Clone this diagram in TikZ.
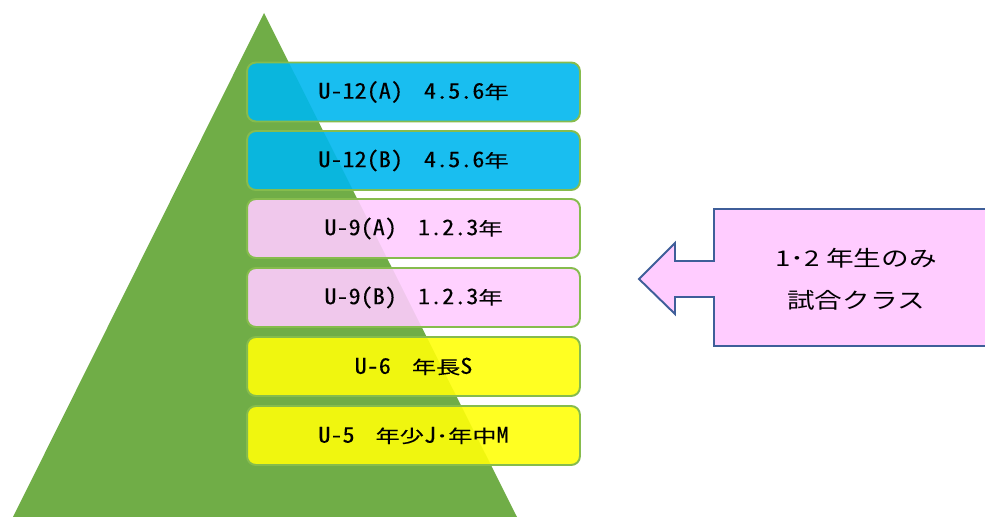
\documentclass[tikz,border=0pt]{standalone}
\usepackage{fontspec}
\setmainfont{Noto Sans CJK JP}
\newfontfamily\classfont[CharacterWidth=Half, FakeStretch=1.35, FakeBold=0.2]{Noto Sans CJK JP}
\newfontfamily\notefont[FakeStretch=1.28]{Noto Sans CJK JP}
\usetikzlibrary{calc}

\definecolor{pyramidgreen}{RGB}{112,173,71}
\definecolor{boxedge}{RGB}{134,188,77}
\definecolor{classblue}{RGB}{0,183,238}
\definecolor{classpink}{RGB}{255,204,255}
\definecolor{classyellow}{RGB}{255,255,10}
\definecolor{calloutedge}{RGB}{63,94,153}

\newcommand{\gap}{\hspace{0.42cm}}
\newcommand{\tall}[1]{\scalebox{1}[1.2]{#1}}

\begin{document}
\begin{tikzpicture}[x=0.02cm, y=-0.02cm,
  classbox/.style={draw=boxedge, line width=1.1pt, rounded corners=5pt,
    fill opacity=0.9, text opacity=1, inner sep=0pt,
    minimum width=6.66cm, minimum height=1.18cm,
    font=\classfont\fontsize{10.2pt}{12pt}\selectfont}]
  \useasboundingbox (0,0) rectangle (985,517);
  \clip (0,0) rectangle (985,517);

  % Pyramid in the back
  \fill[pyramidgreen] (264,13) -- (517,517) -- (13,517) -- cycle;

  \def\drawClass#1#2#3#4{
    \node[classbox, fill=#3] (#1) at (413.5,#2) {#4};
  }

  % Classes, top to bottom
  \drawClass{uA}{92}{classblue}{\tall{U-12(A)}\gap\tall{4.5.6}年}
  \drawClass{uB}{160.5}{classblue}{\tall{U-12(B)}\gap\tall{4.5.6}年}
  \drawClass{nA}{228.5}{classpink}{\tall{U-9(A)}\gap\tall{1.2.3}年}
  \drawClass{nB}{297.5}{classpink}{\tall{U-9(B)}\gap\tall{1.2.3}年}
  \drawClass{six}{366.5}{classyellow}{\tall{U-6}\gap 年長\tall{S}}
  \drawClass{five}{435.5}{classyellow}{\tall{U-5}\gap 年少\tall{J}･年中\tall{M}}

  % Callout pointing at the U-9 classes
  \draw[calloutedge, fill=classpink, line width=1.1pt]
    (992,209) -- (714,209) -- (714,261) -- (675,261) -- (675,243)
    -- (639,279) -- (675,314) -- (675,297) -- (714,297) -- (714,346)
    -- (992,346);
  \node[align=center, font=\notefont\fontsize{12.3pt}{23.8pt}\selectfont] (note)
    at (856,279) {1･2 年生のみ\\試合クラス};
\end{tikzpicture}
\end{document}
